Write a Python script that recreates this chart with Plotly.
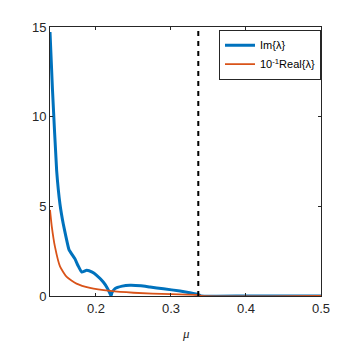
import plotly.graph_objects as go

# values
mu_im = [0.1387, 0.1420, 0.1476, 0.1520, 0.1564, 0.1600, 0.1640, 0.1720, 0.1760,
         0.1810, 0.1876, 0.1950, 0.2009, 0.2097, 0.2150, 0.2187, 0.2200, 0.2215,
         0.2253, 0.2350, 0.2453, 0.2600, 0.2720, 0.2900, 0.3120, 0.3250, 0.3364,
         0.3400, 0.4000, 0.5000]
im_vals = [14.72, 11.5, 6.97, 5.12, 4.01, 3.3, 2.59, 2.07, 1.7,
           1.33, 1.43, 1.33, 1.15, 0.78, 0.45, 0.14, 0.02, 0.2,
           0.41, 0.55, 0.6, 0.57, 0.5, 0.4, 0.28, 0.18, 0.08,
           0.0, 0.0, 0.0]

mu_re = [0.1387, 0.1410, 0.1453, 0.1520, 0.1610, 0.1740, 0.1920, 0.2190,
         0.2500, 0.3000, 0.3364, 0.3400, 0.5000]
re_vals = [4.8, 3.9, 2.75, 1.65, 1.06, 0.69, 0.45, 0.28,
           0.18, 0.1, 0.06, 0.0, 0.0]

mu_crit = 0.3364

fig = go.Figure()
fig.add_trace(go.Scatter(x=mu_im, y=im_vals, mode="lines", name="Im{λ}",
                         line=dict(color="#0072BD", width=3, shape="spline", smoothing=0.4)))
fig.add_trace(go.Scatter(x=mu_re, y=re_vals, mode="lines", name="10<sup>-1</sup>Real{λ}",
                         line=dict(color="#D95319", width=1.8, shape="spline", smoothing=0.5)))
fig.add_trace(go.Scatter(x=[mu_crit, mu_crit], y=[0, 15], mode="lines", showlegend=False,
                         line=dict(color="black", width=2, dash="5px,5px")))

axis_style = dict(showline=True, linecolor="#262626", linewidth=1, mirror="ticks",
                  ticks="inside", ticklen=3, tickcolor="#262626", showgrid=False,
                  zeroline=False, tickfont=dict(family="Liberation Sans, Arial", size=13, color="#262626"))

# page body adds an 8px margin, so the figure is 8px smaller and margins shifted
fig.update_layout(
    width=352, height=333,
    margin=dict(l=42, r=39, t=17, b=45),
    plot_bgcolor="white", paper_bgcolor="white",
    xaxis=dict(range=[0.1387, 0.5], tickvals=[0.2, 0.3, 0.4, 0.5], **axis_style),
    yaxis=dict(range=[0, 15], tickvals=[0, 5, 10, 15], **axis_style),
    legend=dict(x=1, y=0.99, xanchor="right", yanchor="top", bgcolor="white",
                bordercolor="#262626", borderwidth=1, tracegroupgap=0,
                font=dict(family="Liberation Sans, Arial", size=11, color="black")),
)

# x axis label as annotation so it does not push the margins
fig.add_annotation(text="<i>μ</i>", xref="paper", yref="paper", x=0.5, y=0,
                   yshift=-37, yanchor="middle", showarrow=False,
                   font=dict(family="Liberation Serif", size=13, color="#262626"))

fig.write_html("out.html")
